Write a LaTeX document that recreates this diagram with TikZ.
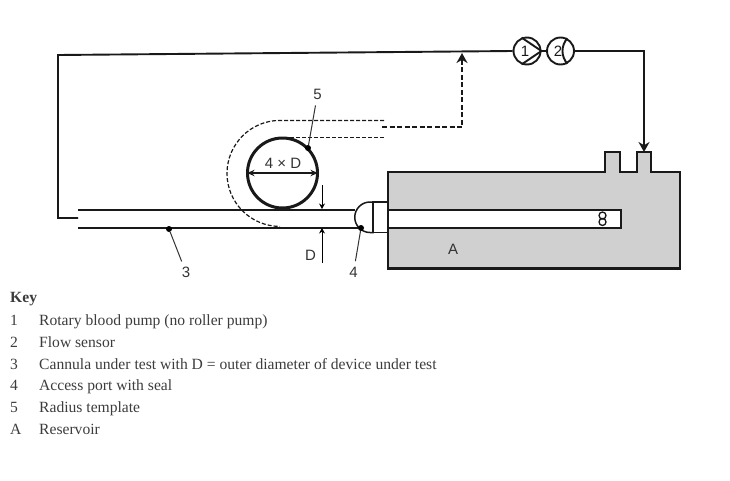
\documentclass[tikz,border=0pt]{standalone}
\usepackage{fontspec}
\setmainfont{Liberation Serif}
\newfontfamily\labelfont{Liberation Sans}
\usetikzlibrary{arrows.meta}
\tikzset {>=Stealth}
\definecolor{reservoirgray}{RGB}{208,208,208}
\definecolor{keygray}{RGB}{60,60,60}
\tikzset{
  line/.style={line width=1.9pt,black!90},
  tube/.style={line width=1.5pt,black!90},
  bigarrow/.style={-{Stealth[length=10pt,width=11pt]}},
  dimarrow/.style={line width=0.9pt,-{Stealth[length=5.5pt,width=6pt]}},
  pumpnode/.style={circle,draw,line width=1.9pt,black!90,minimum size=27pt,inner sep=0pt,font=\labelfont\fontsize{15}{15}\selectfont},
  lbl/.style={inner sep=0pt,text=black!80,font=\labelfont\fontsize{15}{15}\selectfont},
  dotnode/.style={circle,fill=black,inner sep=0pt,minimum size=6pt},
  leader/.style={line width=1pt,black!80,shorten <=6pt},
  guide/.style={line width=1.2pt,black!90,dash pattern=on 4pt off 2pt},
  keytext/.style={anchor=base west,inner sep=0pt,text=keygray,font=\fontsize{15.6}{15.6}\selectfont}
}
\begin{document}
\begin{tikzpicture}[x=1pt,y=-1pt]
\useasboundingbox (0,0) rectangle (730,480);
% reservoir
\draw[line width=2.2pt,black!90,fill=reservoirgray] (388,172) -- (605,172) -- (605,152) -- (620,152) -- (620,172) -- (637,172) -- (637,152) -- (651,152) -- (651,172) -- (680,172) -- (680,268.5) -- (388,268.5) -- cycle;
\draw[tube,fill=white] (388,210) -- (621,210) -- (621,228) -- (388,228);
\draw[line width=1.3pt,black!90] (602.5,215.5) circle (3.5);
\draw[line width=1.3pt,black!90] (602.5,222) circle (3.5);
% access port
\draw[tube,fill=white] (373,202) -- (388,202) -- (388,232.5) -- (373,232.5) -- cycle;
\draw[tube,fill=white] (373,202) -- (370,202) arc[start angle=270,end angle=90,radius=15.25] -- (373,232.5) -- cycle;
\draw[line width=2.4pt,black!90] (373,202) -- (373,232.5);
% cannula
\coordinate (cana) at (78,210);
\coordinate (canb) at (78,228);
\draw[tube] (cana) -- (355,210);
\draw[tube] (canb) -- (358,228);
% pump and flow sensor
\node[pumpnode] (pumpa) at (527,51) {1\kern4pt};
\node[pumpnode] (pumpb) at (560.5,51) {2\kern5pt};
\draw[line] (pumpa.112) -- (pumpa.east) -- (pumpa.248);
\draw[line] (pumpb.62) to[bend right=40] (pumpb.-62);
\draw[line] (pumpa) -- (pumpb);
% return line
\coordinate (reta) at (78,218);
\coordinate (retb) at (58,218);
\coordinate (retc) at (58,55);
\draw[line] (reta) -- (retb) -- (retc) -- (pumpa.west);
\coordinate (feeda) at (644,51);
\coordinate (feedb) at (644,152);
\draw[line,bigarrow] (pumpb.east) -- (feeda) -- (feedb);
% template
\draw[line width=3pt,black!90] (282.5,173) circle (35);
\draw[guide] (384,120.4) -- (280,120.4) arc[start angle=270,end angle=90,radius=53];
\draw[guide] (384,137.5) -- (282,137.5);
\coordinate (dasha) at (382,127);
\coordinate (dashb) at (462,127);
\coordinate (dashc) at (462,53);
\draw[line,line width=2.1pt,dash pattern=on 5pt off 2.5pt,bigarrow] (dasha) -- (dashb) -- (dashc);
\coordinate (wida) at (247.5,173);
\coordinate (widb) at (317.5,173);
\draw[line width=1.3pt,black!90,{Stealth[length=7pt,width=6.5pt]}-{Stealth[length=7pt,width=6.5pt]}] (wida) -- (widb);
\node[lbl] (widlbl) at (283,163.5) {4 × D};
% dimension D
\coordinate (dima) at (322,185);
\coordinate (dimb) at (322,209);
\coordinate (dimc) at (322,263);
\coordinate (dimd) at (322,228);
\draw[dimarrow] (dima) -- (dimb);
\draw[dimarrow] (dimc) -- (dimd);
\node[lbl] (dimlbl) at (310.5,255.5) {D};
% leaders
\node[lbl] (lblfive) at (317.5,94) {5};
\node[lbl] (lblthree) at (186,272.5) {3};
\node[lbl] (lblfour) at (353.5,272.5) {4};
\node[lbl] (lblres) at (453,249) {A};
\node[dotnode] (dotfive) at (308,148) {};
\node[dotnode] (dotthree) at (169,229) {};
\node[dotnode] (dotfour) at (361,228) {};
\draw[leader] (lblfive) -- (dotfive);
\draw[leader] (lblthree) -- (dotthree);
\draw[leader] (lblfour) -- (dotfour);
% key
\node[keytext,font=\bfseries\fontsize{15.6}{15.6}\selectfont] (keyhead) at (10,302) {Key};
\node[keytext] (keya) at (10,325) {1};
\node[keytext] (keyb) at (10,347) {2};
\node[keytext] (keyc) at (10,369) {3};
\node[keytext] (keyd) at (10,390.5) {4};
\node[keytext] (keye) at (10,412) {5};
\node[keytext] (keyf) at (10,434) {A};
\node[keytext] (texta) at (39,325) {Rotary blood pump (no roller pump)};
\node[keytext] (textb) at (39,347) {Flow sensor};
\node[keytext] (textc) at (39,369) {Cannula under test with D = outer diameter of device under test};
\node[keytext] (textd) at (39,390.5) {Access port with seal};
\node[keytext] (texte) at (39,412) {Radius template};
\node[keytext] (textf) at (39,434) {Reservoir};
\end{tikzpicture}
\end{document}
